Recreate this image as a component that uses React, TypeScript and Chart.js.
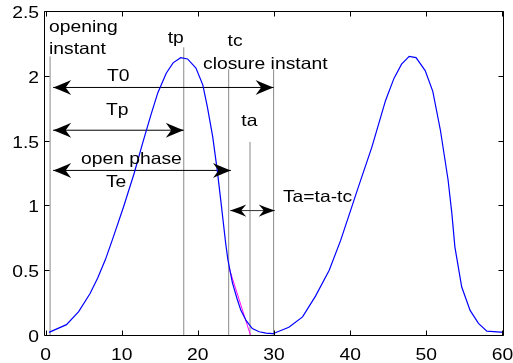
import React, { useEffect, useRef } from "react";
import { Chart, registerables } from "chart.js";

Chart.register(...registerables);

// Glottal flow samples (time, amplitude)
const flowX = [0.45, 2.75, 4.35, 5.85, 6.85, 7.85, 8.75, 10.25, 11.65, 12.75, 13.85, 14.75, 15.85, 16.75, 17.75, 18.65, 19.75, 20.65, 21.25, 21.95, 22.55, 23.05, 23.65, 23.95, 24.55, 25.15, 25.65, 26.35, 27.15, 28.05, 28.95, 29.85, 31.95, 33.75, 35.45, 37.25, 38.75, 40.05, 40.95, 42.85, 44.65, 45.75, 46.75, 47.75, 48.65, 49.85, 50.85, 51.85, 52.85, 53.35, 53.75, 54.65, 55.75, 56.85, 57.95, 60.2];
const flowY = [0.02, 0.08, 0.18, 0.32, 0.44, 0.58, 0.73, 0.99, 1.25, 1.48, 1.7, 1.87, 2.02, 2.1, 2.14, 2.13, 2.06, 1.93, 1.76, 1.53, 1.27, 1.02, 0.71, 0.58, 0.4, 0.28, 0.19, 0.11, 0.05, 0.025, 0.015, 0.01, 0.06, 0.14, 0.3, 0.5, 0.73, 0.96, 1.12, 1.45, 1.81, 1.98, 2.09, 2.15, 2.14, 2.04, 1.88, 1.58, 1.2, 0.94, 0.68, 0.37, 0.19, 0.09, 0.03, 0.02];

// Vertical marker lines: opening, tp, tc, ta, T0
const markerX = [0.6, 18.15, 24.05, 26.85, 29.95];
const markerTop = [2.15, 2.22, 2.05, 1.49, 2.05];

// Double arrows: T0, Tp, open phase (Te), Ta
const arrowY = [1.91, 1.58, 1.27, 0.96];
const arrowFrom = [1.0, 1.0, 1.0, 24.25];
const arrowTo = [29.95, 18.15, 24.35, 30.1];

// Return-phase tangent
const tangentX = [24.1, 26.9];
const tangentY = [0.517, 0];

// Text annotations (left, baseline in data units)
const labelText = ["opening", "instant", "tp", "tc", "closure instant", "T0", "Tp", "ta", "open phase", "Te", "Ta=ta-tc"];
const labelX = [0.46, 0.46, 16.05, 23.9, 20.68, 8.06, 7.93, 25.71, 4.65, 7.93, 31.17];
const labelY = [2.34, 2.17, 2.255, 2.23, 2.05, 1.957, 1.7, 1.61, 1.32, 1.14, 1.03];

// Axis ticks
const xTickValues = [0, 10, 20, 30, 40, 50, 60];
const xTickLabels = ["0", "10", "20", "30", "40", "50", "60"];
const yTickValues = [0, 0.5, 1, 1.5, 2, 2.5];
const yTickLabels = ["0", "0.5", "1", "1.5", "2", "2.5"];

const FONT = '16.5px "Liberation Sans", Arial, sans-serif';
const STRETCH = 1.17;

function drawText(ctx: CanvasRenderingContext2D, text: string, x: number, y: number, align: "left" | "center" | "right") {
  ctx.save();
  ctx.font = FONT;
  ctx.textBaseline = "alphabetic";
  const w = ctx.measureText(text).width * STRETCH;
  let left = x;
  if (align === "center") left = x - w / 2;
  if (align === "right") left = x - w;
  ctx.translate(left, y);
  ctx.scale(STRETCH, 1);
  ctx.textAlign = "left";
  ctx.fillStyle = "#000";
  ctx.fillText(text, 0, 0);
  ctx.restore();
}

function arrowHead(ctx: CanvasRenderingContext2D, tx: number, ty: number, dir: number, L: number, hw: number, notch: number) {
  ctx.beginPath();
  ctx.moveTo(tx, ty);
  ctx.quadraticCurveTo(tx - dir * L * 0.6, ty - hw * 0.55, tx - dir * L, ty - hw);
  ctx.lineTo(tx - dir * notch, ty);
  ctx.lineTo(tx - dir * L, ty + hw);
  ctx.quadraticCurveTo(tx - dir * L * 0.6, ty + hw * 0.55, tx, ty);
  ctx.closePath();
  ctx.fill();
}

const decorPlugin = {
  id: "decor",
  afterDraw(chart: any) {
    const ctx: CanvasRenderingContext2D = chart.ctx;
    const xs = chart.scales.x;
    const ys = chart.scales.y;
    const a = chart.chartArea;
    ctx.save();
    // arrowheads
    ctx.fillStyle = "#000";
    for (let i = 0; i < arrowY.length; i++) {
      const py = ys.getPixelForValue(arrowY[i]);
      const p1 = xs.getPixelForValue(arrowFrom[i]);
      const p2 = xs.getPixelForValue(arrowTo[i]);
      const small = i === 3;
      const L = small ? 16 : 18;
      const hw = small ? 6.2 : 7.5;
      const notch = small ? 11 : 12.5;
      arrowHead(ctx, p1, py, -1, L, hw, notch);
      arrowHead(ctx, p2, py, 1, L, hw, notch);
    }
    // frame
    ctx.strokeStyle = "#000";
    ctx.lineWidth = 1;
    const L0 = Math.round(a.left) + 0.5;
    const R0 = Math.round(a.right) - 0.5;
    const T0 = Math.round(a.top) + 0.5;
    const B0 = Math.round(a.bottom) + 0.5;
    ctx.beginPath();
    ctx.moveTo(L0, T0);
    ctx.lineTo(R0, T0);
    ctx.lineTo(R0, B0);
    ctx.lineTo(L0, B0);
    ctx.closePath();
    ctx.stroke();
    // ticks
    const tl = 5;
    ctx.beginPath();
    for (const v of xTickValues) {
      const px = Math.round(xs.getPixelForValue(v)) + 0.5;
      ctx.moveTo(px, B0);
      ctx.lineTo(px, B0 - tl);
      ctx.moveTo(px, T0);
      ctx.lineTo(px, T0 + tl);
    }
    for (const v of yTickValues) {
      const py = Math.round(ys.getPixelForValue(v)) + 0.5;
      ctx.moveTo(L0, py);
      ctx.lineTo(L0 + tl, py);
      ctx.moveTo(R0, py);
      ctx.lineTo(R0 - tl, py);
    }
    ctx.stroke();
    // tick labels
    xTickValues.forEach((v, i) => {
      drawText(ctx, xTickLabels[i], xs.getPixelForValue(v), B0 + 24.5, "center");
    });
    yTickValues.forEach((v, i) => {
      drawText(ctx, yTickLabels[i], L0 - 5.5, ys.getPixelForValue(v) + 7, "right");
    });
    // annotations
    labelText.forEach((t, i) => {
      drawText(ctx, t, xs.getPixelForValue(labelX[i]), ys.getPixelForValue(labelY[i]), "left");
    });
    ctx.restore();
  },
};

export default function App() {
  const ref = useRef<HTMLCanvasElement | null>(null);
  useEffect(() => {
    if (!ref.current) return;
    const datasets: any[] = [];
    datasets.push({
      data: flowX.map((x, i) => ({ x, y: flowY[i] })),
      borderColor: "#0000ff",
      borderWidth: 1.2,
      pointRadius: 0,
      tension: 0,
    });
    datasets.push({
      data: tangentX.map((x, i) => ({ x, y: tangentY[i] })),
      borderColor: "#ff00ff",
      borderWidth: 1,
      pointRadius: 0,
    });
    arrowY.forEach((y, i) => {
      datasets.push({
        data: [
          { x: arrowFrom[i], y },
          { x: arrowTo[i], y },
        ],
        borderColor: i === 3 ? "#333" : "#000",
        borderWidth: 1,
        pointRadius: 0,
      });
    });
    markerX.forEach((x, i) => {
      datasets.push({
        data: [
          { x, y: 0 },
          { x, y: markerTop[i] },
        ],
        borderColor: "#8a8a8a",
        borderWidth: 1,
        pointRadius: 0,
      });
    });
    const chart = new Chart(ref.current, {
      type: "line",
      data: { datasets },
      options: {
        responsive: false,
        animation: false,
        devicePixelRatio: 1,
        layout: { padding: { left: 44, right: 9, top: 11, bottom: 28 } },
        plugins: { legend: { display: false }, tooltip: { enabled: false } },
        scales: {
          x: { type: "linear", min: -0.2, max: 60.2, display: false },
          y: { type: "linear", min: 0, max: 2.5, display: false },
        },
      },
      plugins: [decorPlugin],
    });
    return () => chart.destroy();
  }, []);
  return (
    <div style={{ position: "fixed", left: 0, top: 0, width: 513, height: 363, background: "#fff" }}>
      <canvas ref={ref} width={513} height={363} />
    </div>
  );
}
